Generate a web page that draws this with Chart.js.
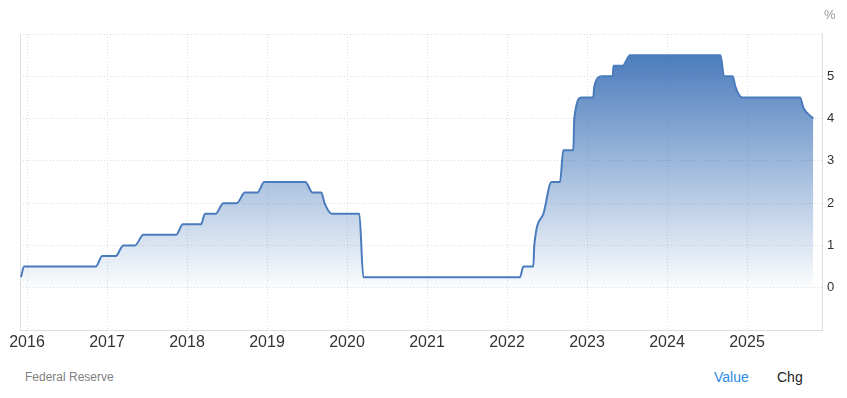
<!DOCTYPE html>
<html><head><meta charset="utf-8">
<script src="https://cdn.jsdelivr.net/npm/chart.js@4.4.1/dist/chart.umd.min.js"></script>
<style>
html,body{margin:0;padding:0;background:#fff;}
#wrap{position:relative;width:847px;height:398px;overflow:hidden;font-family:"Liberation Sans",Arial,sans-serif;}
#box{position:absolute;left:0;top:0;width:847px;height:360px;}
.t{position:absolute;white-space:nowrap;line-height:1;}
</style></head><body>
<div id="wrap">
<div id="box"><canvas id="c"></canvas></div>
<div class="t" style="left:824px;top:8px;font-size:13px;color:#999;">%</div>
<div class="t" style="left:25px;top:371px;font-size:12px;color:#808080;">Federal Reserve</div>
<div class="t" style="left:714px;top:370px;font-size:14px;color:#2b8ce8;">Value</div>
<div class="t" style="left:777px;top:370px;font-size:14px;color:#222;">Chg</div>
</div>
<script>
// Fed funds rate (upper bound, %), x in decimal years
const dates = [
  2015.925, 2015.9625,
  2016.859, 2016.941,
  2017.109, 2017.204,
  2017.350, 2017.454,
  2017.8625, 2017.948,
  2018.175, 2018.225,
  2018.359, 2018.454,
  2018.621, 2018.725,
  2018.879, 2018.966,
  2019.479, 2019.569,
  2019.679, 2019.719, 2019.809,
  2020.154, 2020.204,
  2022.1625, 2022.204,
  2022.329, 2022.341, 2022.455, 2022.556,
  2022.6625, 2022.704,
  2022.829, 2022.841, 2022.934,
  2023.079, 2023.090, 2023.184,
  2023.321, 2023.331,
  2023.446, 2023.5375,
  2024.669, 2024.7125,
  2024.821, 2024.856, 2024.9375,
  2025.6625, 2025.706, 2025.829
];
const rates = [
  0.25, 0.5,
  0.5, 0.75,
  0.75, 1.0,
  1.0, 1.25,
  1.25, 1.5,
  1.5, 1.75,
  1.75, 2.0,
  2.0, 2.25,
  2.25, 2.5,
  2.5, 2.25,
  2.25, 2.0, 1.75,
  1.75, 0.25,
  0.25, 0.5,
  0.5, 1.0, 1.75, 2.5,
  2.5, 3.25,
  3.25, 4.0, 4.5,
  4.5, 4.75, 5.0,
  5.0, 5.25,
  5.25, 5.5,
  5.5, 5.0,
  5.0, 4.75, 4.5,
  4.5, 4.25, 4.0
];
const yearTicks = [2016, 2017, 2018, 2019, 2020, 2021, 2022, 2023, 2024, 2025];
const rateTicks = [0, 1, 2, 3, 4, 5];
const xRange = [2015.9125, 2025.9375];
const yRange = [-1, 6];

const FONT = '"Liberation Sans", Arial, sans-serif';
const GRID = '#dcdcdc';

new Chart(document.getElementById('c'), {
  type: 'line',
  data: {
    datasets: [{
      data: dates.map((d, i) => ({x: d, y: rates[i]})),
      xAxisID: 'x', yAxisID: 'y',
      borderColor: '#4a7bbd',
      borderWidth: 2,
      pointRadius: 0,
      pointHoverRadius: 0,
      cubicInterpolationMode: 'monotone',
      fill: 'origin',
      backgroundColor: (ctx) => {
        const ch = ctx.chart;
        if (!ch.chartArea) return 'rgba(74,123,189,0.5)';
        const y0 = ch.scales.y.getPixelForValue(5.5);
        const y1 = ch.scales.y.getPixelForValue(0);
        const g = ch.ctx.createLinearGradient(0, y0, 0, y1);
        g.addColorStop(0, 'rgba(72,122,187,0.98)');
        g.addColorStop(1, 'rgba(72,122,187,0.02)');
        return g;
      }
    }]
  },
  options: {
    responsive: true,
    maintainAspectRatio: false,
    animation: false,
    layout: {padding: {left: 20, top: 34, right: 0, bottom: 0}},
    plugins: {legend: {display: false}, tooltip: {enabled: false}},
    scales: {
      x: {
        type: 'linear', position: 'bottom',
        min: xRange[0], max: xRange[1],
        afterBuildTicks: (s) => { s.ticks = yearTicks.map(v => ({value: v})); },
        afterFit: (s) => { s.height = 30; },
        grid: {color: GRID, drawTicks: false},
        border: {display: true, color: '#dddddd', dash: [1, 2]},
        ticks: {padding: 3, color: '#333', font: {family: FONT, size: 16}, maxRotation: 0, autoSkip: false,
          callback: (v) => String(v)}
      },
      y: {
        type: 'linear', position: 'right',
        min: yRange[0], max: yRange[1],
        afterFit: (s) => { s.width = 25; },
        grid: {color: GRID, drawTicks: false},
        border: {display: true, color: '#dddddd', dash: [1, 2]},
        ticks: {stepSize: 1, padding: 5, color: '#333', font: {family: FONT, size: 13},
          callback: (v) => rateTicks.includes(v) ? String(v) : ''}
      },
      yl: {
        type: 'linear', position: 'left',
        min: yRange[0], max: yRange[1],
        afterFit: (s) => { s.width = 0; },
        grid: {color: 'rgba(0,0,0,0)', drawTicks: false},
        border: {display: true, color: '#dddddd'},
        ticks: {display: false}
      }
    }
  }
});
</script>
</body></html>
